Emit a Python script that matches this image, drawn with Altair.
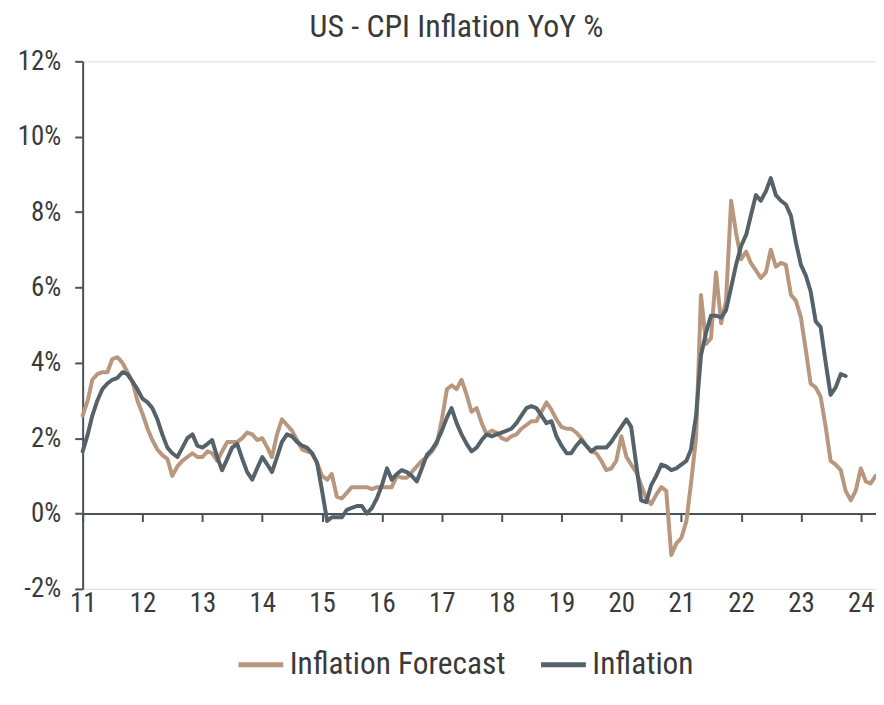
import altair as alt
import pandas as pd

# ---- data (monthly, starting Jan 2011) ----
forecast = [
    2.6, 3.0, 3.55, 3.7, 3.75, 3.75, 4.1, 4.15, 4.0, 3.75, 3.5, 3.0,      # 2011
    2.65, 2.25, 1.95, 1.7, 1.55, 1.45, 1.0, 1.25, 1.4, 1.5, 1.6, 1.5,     # 2012
    1.5, 1.65, 1.6, 1.4, 1.65, 1.9, 1.9, 1.9, 2.0, 2.15, 2.1, 1.95,       # 2013
    2.0, 1.75, 1.5, 2.1, 2.5, 2.35, 2.2, 1.95, 1.7, 1.65, 1.6, 1.35,      # 2014
    1.0, 0.9, 1.05, 0.45, 0.4, 0.55, 0.7, 0.7, 0.7, 0.7, 0.65, 0.7,       # 2015
    0.7, 0.7, 0.7, 1.0, 0.95, 0.95, 1.1, 1.25, 1.4, 1.5, 1.65, 1.85,      # 2016
    2.5, 3.3, 3.4, 3.3, 3.55, 3.15, 2.7, 2.8, 2.4, 2.1, 2.2, 2.15,        # 2017
    2.0, 1.95, 2.05, 2.1, 2.25, 2.35, 2.45, 2.45, 2.7, 2.95, 2.75, 2.5,   # 2018
    2.3, 2.25, 2.25, 2.15, 2.0, 1.8, 1.65, 1.6, 1.4, 1.15, 1.2, 1.4,      # 2019
    2.05, 1.5, 1.3, 1.1, 0.75, 0.4, 0.25, 0.5, 0.7, 0.6, -1.1, -0.8,      # 2020
    -0.65, -0.2, 0.8, 2.0, 5.8, 4.5, 4.65, 6.4, 5.05, 5.65, 8.3, 7.45,    # 2021
    6.75, 6.95, 6.65, 6.45, 6.25, 6.4, 7.0, 6.55, 6.65, 6.6, 5.8, 5.65,   # 2022
    5.2, 4.3, 3.45, 3.35, 3.1, 2.3, 1.4, 1.3, 1.15, 0.6, 0.35, 0.6,       # 2023
    1.2, 0.85, 0.8, 1.0,                                                 # 2024
]
inflation = [
    1.65, 2.1, 2.6, 3.0, 3.3, 3.45, 3.55, 3.6, 3.75, 3.7, 3.5, 3.3,       # 2011
    3.05, 2.95, 2.8, 2.5, 2.1, 1.75, 1.6, 1.5, 1.75, 2.0, 2.1, 1.8,       # 2012
    1.75, 1.85, 1.95, 1.5, 1.15, 1.45, 1.75, 1.85, 1.45, 1.1, 0.9, 1.2,   # 2013
    1.5, 1.3, 1.1, 1.5, 1.9, 2.1, 2.05, 1.9, 1.8, 1.75, 1.6, 1.35,        # 2014
    0.6, -0.2, -0.1, -0.1, -0.1, 0.1, 0.15, 0.2, 0.2, 0.0, 0.15, 0.4,     # 2015
    0.75, 1.2, 0.9, 1.05, 1.15, 1.1, 1.0, 0.85, 1.2, 1.55, 1.7, 1.9,      # 2016
    2.2, 2.55, 2.8, 2.4, 2.1, 1.85, 1.65, 1.75, 1.95, 2.1, 2.05, 2.1,     # 2017
    2.15, 2.2, 2.25, 2.4, 2.6, 2.8, 2.85, 2.8, 2.6, 2.4, 2.45, 2.05,      # 2018
    1.8, 1.6, 1.6, 1.8, 1.95, 1.8, 1.65, 1.75, 1.75, 1.75, 1.9, 2.1,      # 2019
    2.3, 2.5, 2.3, 1.3, 0.35, 0.3, 0.75, 1.0, 1.3, 1.25, 1.15, 1.2,       # 2020
    1.3, 1.4, 1.7, 2.6, 4.2, 4.8, 5.25, 5.25, 5.2, 5.4, 6.0, 6.6,         # 2021
    7.1, 7.4, 7.9, 8.45, 8.3, 8.55, 8.9, 8.45, 8.3, 8.2, 7.9, 7.2,        # 2022
    6.6, 6.3, 5.9, 5.1, 4.95, 4.0, 3.15, 3.35, 3.7, 3.65,                 # 2023
]
series_names = ["Inflation Forecast", "Inflation"]
series_colors = ["#B8977E", "#56626A"]
year_ticks = list(range(2011, 2025))
y_ticks = [-2, 0, 2, 4, 6, 8, 10, 12]
title_text = "US - CPI Inflation YoY %"

FONT = "'Liberation Sans Narrow', 'Roboto Condensed', 'DejaVu Sans Condensed', 'Arial Narrow', sans-serif"
AXIS_DARK = "#4A5358"
TEXT = "#3A3A3A"

def monthly(values, name):
    dates = pd.date_range("2011-01-01", periods=len(values), freq="MS")
    return pd.DataFrame({"date": dates.strftime("%Y-%m-%d"), "value": values, "series": name})

df = pd.concat([monthly(forecast, series_names[0]), monthly(inflation, series_names[1])],
               ignore_index=True)

W, H = 797, 530
x_scale = alt.Scale(type="utc",
                    domain=[alt.DateTime(year=2011, month=1, date=1, utc=True),
                            alt.DateTime(year=2024, month=4, date=3, utc=True)])
y_scale = alt.Scale(domain=[-2, 12], nice=False)
color_scale = alt.Scale(domain=series_names, range=series_colors)
tick_values = [alt.DateTime(year=y, month=1, date=1, utc=True) for y in year_ticks]

y_enc = alt.Y("value:Q", scale=y_scale, title=None,
              axis=alt.Axis(values=y_ticks, labelExpr="datum.value + '%'", grid=False,
                            domainColor=AXIS_DARK, domainWidth=2, tickColor=AXIS_DARK,
                            tickWidth=2, tickSize=8, labelFontSize=27, labelColor=TEXT,
                            labelPadding=14, labelFont=FONT))
color_enc = alt.Color("series:N", scale=color_scale, sort=series_names,
                      legend=alt.Legend(title=None, orient="none", legendX=154, legendY=581,
                                        direction="horizontal", symbolType="stroke",
                                        symbolSize=2025, symbolStrokeWidth=5,
                                        labelFontSize=31.5, labelColor=TEXT, labelFont=FONT,
                                        labelLimit=600, columnPadding=25, labelOffset=4,
                                        padding=0))

base = alt.Chart(df)

# zero-line axis (ticks, no labels) sits at 0%
forecast_layer = base.transform_filter(
    alt.datum.series == series_names[0]
).mark_line(strokeWidth=4, strokeCap="round", strokeJoin="round").encode(
    x=alt.X("date:T", scale=x_scale, title=None,
            axis=alt.Axis(orient="bottom", values=tick_values, labels=False, grid=False,
                          domain=True, domainColor=AXIS_DARK, domainWidth=2, ticks=True,
                          tickColor=AXIS_DARK, tickWidth=2, tickSize=8,
                          offset=-H * 2 / 14)),
    y=y_enc,
    color=color_enc,
)

# label axis at the bottom
inflation_layer = base.transform_filter(
    alt.datum.series == series_names[1]
).mark_line(strokeWidth=4, strokeCap="round", strokeJoin="round").encode(
    x=alt.X("date:T", scale=x_scale, title=None,
            axis=alt.Axis(orient="bottom", values=tick_values, format="%y", grid=False,
                          domain=False, ticks=False, labelFontSize=27, labelColor=TEXT,
                          labelFont=FONT, labelPadding=2, labelFlush=False,
                          labelOverlap=False)),
    y=y_enc,
    color=color_enc,
)

chart = alt.layer(forecast_layer, inflation_layer).resolve_axis(x="independent").properties(
    width=W, height=H,
    autosize="none",
    padding={"left": 75, "top": 52, "right": 0, "bottom": 105},
    title=alt.TitleParams(title_text, fontSize=32, font=FONT, color=TEXT,
                          fontWeight="normal", anchor="middle", dx=-23, offset=3),
).configure_view(stroke="#D9D9D9", strokeWidth=1).configure(background="white")

chart.save("out.html", embed_options={"renderer": "svg", "actions": False})
